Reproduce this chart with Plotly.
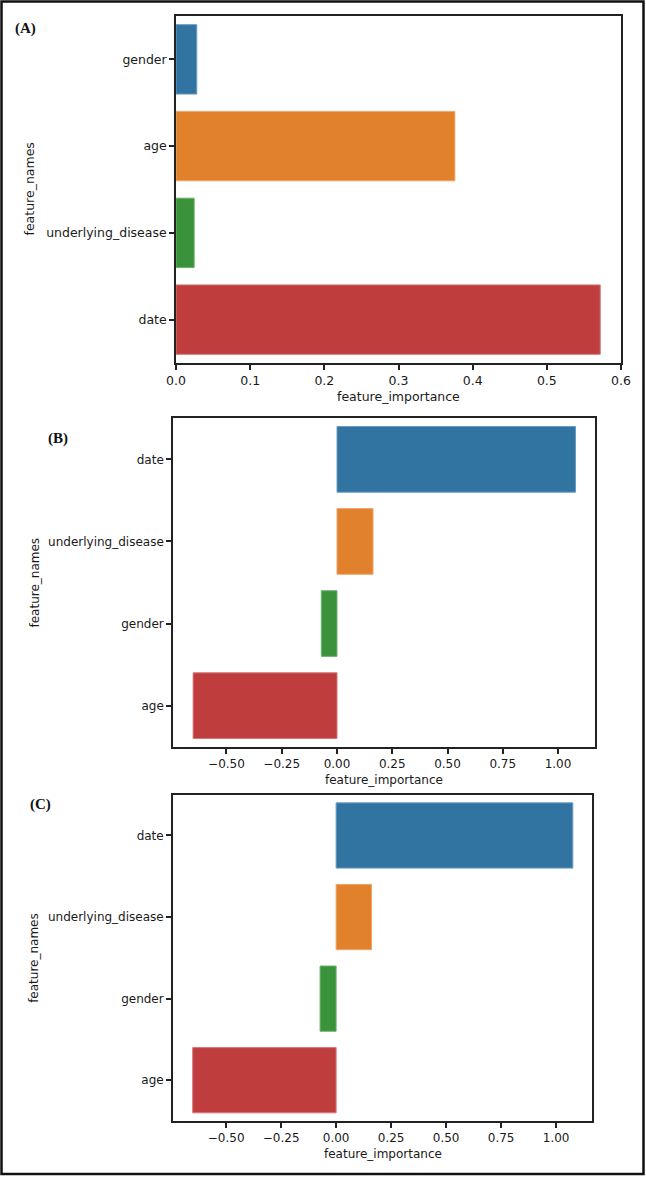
import plotly.graph_objects as go

W, H = 646, 1177

# ---- data ----
feat_A = ["gender", "age", "underlying_disease", "date"]
imp_A = [0.028, 0.376, 0.0245, 0.572]

feat_B = ["date", "underlying_disease", "gender", "age"]
imp_B = [1.079, 0.163, -0.071, -0.651]

feat_C = ["date", "underlying_disease", "gender", "age"]
imp_C = [1.076, 0.161, -0.073, -0.652]

xticks_A = [0.0, 0.1, 0.2, 0.3, 0.4, 0.5, 0.6]
xticks_BC = [-0.50, -0.25, 0.00, 0.25, 0.50, 0.75, 1.00]

colors = ["#3274A1", "#E1812C", "#3A923A", "#C03D3E"]
edges = ["#6a9cc2", "#eda56a", "#6cb36c", "#d4777a"]

# pixel boxes (left, right, top, bottom)
boxes = [
    (176, 621, 16, 363),
    (173, 594.5, 418.3, 746.7),
    (172.9, 592.4, 794.7, 1121),
]
xranges = [[0, 0.6], [-0.742, 1.165], [-0.742, 1.165]]
panel_labels = ["(A)", "(B)", "(C)"]
label_pos = [(25.6, 29), (58, 438), (40, 804)]
ytitle_x = [29, 34, 34]
tick_sizes = [12.5, 12, 12]

fig = go.Figure()

datasets = [(feat_A, imp_A, xticks_A, "%.1f"), (feat_B, imp_B, xticks_BC, "%.2f"), (feat_C, imp_C, xticks_BC, "%.2f")]

annotations = []
for i, ((feats, vals, xt, fmt), (l, r, t, b), xr) in enumerate(zip(datasets, boxes, xranges)):
    n = i + 1
    font = dict(family="DejaVu Sans", size=tick_sizes[i], color="#1a1a1a")
    xa = "x" if n == 1 else f"x{n}"
    ya = "y" if n == 1 else f"y{n}"
    fig.add_trace(go.Bar(
        x=vals, y=feats, orientation="h", width=0.8,
        marker=dict(color=colors, line=dict(color=edges, width=1)),
        xaxis=xa, yaxis=ya, showlegend=False, hoverinfo="x+y",
    ))
    axis_common = dict(showline=True, linecolor="#222222", linewidth=1.6, mirror=True,
                       ticks="outside", ticklen=5, tickwidth=1.5, tickcolor="#222222",
                       showgrid=False, zeroline=False, tickfont=font, automargin=False)
    xkey = "xaxis" if n == 1 else f"xaxis{n}"
    ykey = "yaxis" if n == 1 else f"yaxis{n}"
    fig.update_layout(**{
        xkey: dict(domain=[l / W, r / W], anchor=ya, range=xr,
                   tickvals=xt, ticktext=[(fmt % v).replace("-", "\u2212") for v in xt],
                   **axis_common),
        ykey: dict(domain=[1 - b / H, 1 - t / H], anchor=xa, type="category",
                   categoryorder="array", categoryarray=feats,
                   range=[len(feats) - 0.5, -0.5], **axis_common),
    })
    # axis titles
    annotations.append(dict(text="feature_importance", x=((l + r) / 2) / W, y=1 - (b + 33) / H,
                            xref="paper", yref="paper", showarrow=False, font=font,
                            xanchor="center", yanchor="middle"))
    annotations.append(dict(text="feature_names", x=ytitle_x[i] / W, y=1 - ((t + b) / 2) / H,
                            xref="paper", yref="paper", showarrow=False, font=font,
                            textangle=-90, xanchor="center", yanchor="middle"))
    lx, ly = label_pos[i]
    annotations.append(dict(text="<b>" + panel_labels[i] + "</b>", x=lx / W, y=1 - ly / H,
                            xref="paper", yref="paper", showarrow=False,
                            font=dict(family="Liberation Serif", size=15, color="#111111"),
                            xanchor="center", yanchor="middle"))

fig.update_layout(
    width=W, height=H, autosize=False,
    margin=dict(l=0, r=0, t=0, b=0, pad=0, autoexpand=False),
    paper_bgcolor="white", plot_bgcolor="white",
    annotations=annotations,
    shapes=[dict(type="rect", xref="paper", yref="paper",
                 x0=1.5 / W, x1=643.5 / W, y0=1 - 1174 / H, y1=1 - 1.5 / H,
                 line=dict(color="#111111", width=2.5))],
)

fig.write_html(
    "out.html",
    config={"responsive": False, "displayModeBar": False},
    post_script="document.body.style.margin='0';document.body.style.padding='0';",
)
